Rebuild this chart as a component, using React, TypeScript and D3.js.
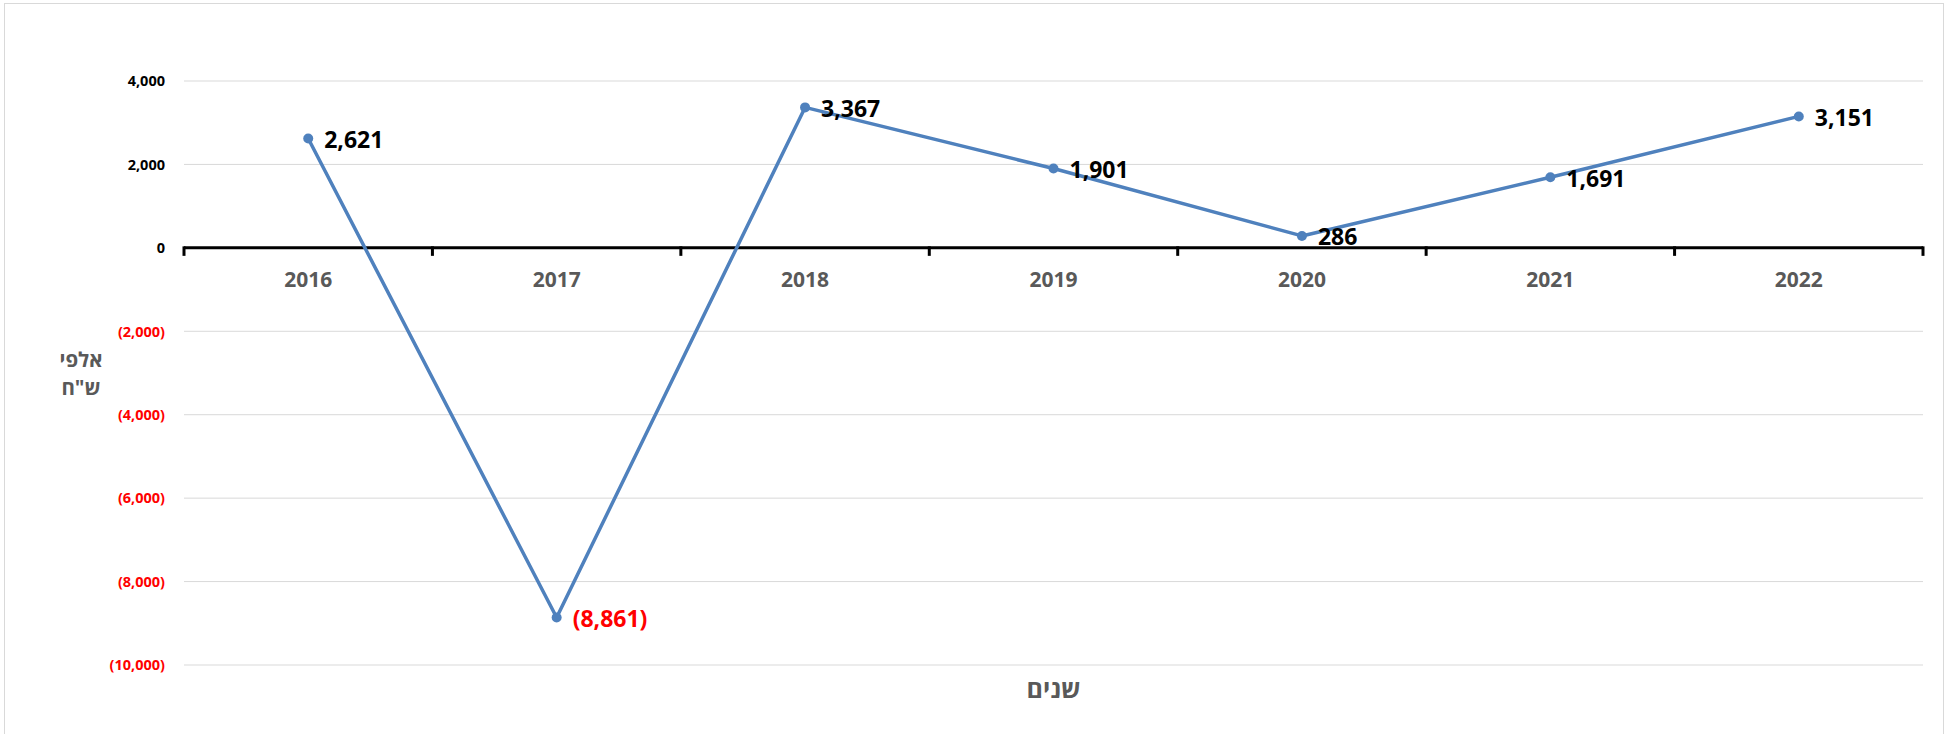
import React from 'react';
import * as d3 from 'd3';

const years = ['2016', '2017', '2018', '2019', '2020', '2021', '2022'];
const values = [2621, -8861, 3367, 1901, 286, 1691, 3151];
const yTicks = [4000, 2000, 0, -2000, -4000, -6000, -8000, -10000];
const yTitle = ['אלפי', 'ש"ח'];
const xTitle = 'שנים';

const W = 1952;
const H = 734;
const LEFT = 184;
const RIGHT = 1923;
const TOP = 81;
const BOTTOM = 665;

const NUM_FONT = "'Open Sans', Lato, 'DejaVu Sans', sans-serif";
const HEB_FONT = "'Open Sans', 'DejaVu Sans', sans-serif";

const fmt = (v: number) => {
  const s = d3.format(',')(Math.abs(v));
  return v < 0 ? `(${s})` : s;
};

const App: React.FC = () => {
  const x = d3.scaleBand<string>().domain(years).range([LEFT, RIGHT]).padding(0);
  const y = d3.scaleLinear().domain([-10000, 4000]).range([BOTTOM, TOP]);
  const cx = (yr: string) => (x(yr) ?? 0) + x.bandwidth() / 2;

  const points = years.map((yr, i) => ({ yr, v: values[i] }));
  const line = d3
    .line<{ yr: string; v: number }>()
    .x(d => cx(d.yr))
    .y(d => y(d.v));

  const y0 = y(0);
  // band edges for the tick marks under the zero line
  const edges = years.map(yr => x(yr) ?? 0).concat([RIGHT]);

  return (
    <div style={{ position: 'absolute', left: 0, top: 0 }}>
      <svg width={W} height={H} style={{ display: 'block', background: '#fff' }}>
        <rect x={4.5} y={3.5} width={1939} height={760} fill="#fff" stroke="#d9d9d9" strokeWidth={1} />

        {/* gridlines */}
        {yTicks.filter(t => t !== 0).map(t => (
          <line key={t} x1={LEFT} x2={RIGHT} y1={y(t)} y2={y(t)} stroke="#d9d9d9" strokeWidth={1} />
        ))}

        {/* y tick labels */}
        {yTicks.map(t => (
          <text
            key={'l' + t}
            x={165}
            y={y(t)}
            dy="0.36em"
            textAnchor="end"
            fontFamily={NUM_FONT}
            fontWeight="bold"
            fontSize={14.5}
            fill={t < 0 ? '#ff0000' : '#000'}
          >
            {fmt(t)}
          </text>
        ))}

        {/* zero axis */}
        <line x1={LEFT} x2={RIGHT} y1={y0} y2={y0} stroke="#000" strokeWidth={3} />
        {edges.map((e, i) => (
          <line key={'t' + i} x1={e} x2={e} y1={y0 - 1.5} y2={y0 + 8} stroke="#000" strokeWidth={3} />
        ))}

        {/* x labels */}
        {years.map(yr => (
          <text
            key={'x' + yr}
            x={cx(yr)}
            y={287}
            textAnchor="middle"
            fontFamily={NUM_FONT}
            fontWeight="bold"
            fontSize={21}
            fill="#595959"
          >
            {yr}
          </text>
        ))}

        {/* series */}
        <path d={line(points) ?? ''} fill="none" stroke="#4F81BD" strokeWidth={3.5} strokeLinejoin="round" />
        {points.map(p => (
          <circle key={'c' + p.yr} cx={cx(p.yr)} cy={y(p.v)} r={5} fill="#4F81BD" />
        ))}
        {points.map(p => (
          <text
            key={'d' + p.yr}
            x={cx(p.yr) + 16}
            y={y(p.v) + 1}
            dy="0.36em"
            fontFamily={NUM_FONT}
            fontWeight="bold"
            fontSize={23}
            fill={p.v < 0 ? '#ff0000' : '#000'}
          >
            {fmt(p.v)}
          </text>
        ))}

        {/* axis titles */}
        {yTitle.map((t, i) => (
          <text
            key={'yt' + i}
            x={81}
            y={367 + i * 28}
            textAnchor="middle"
            direction="rtl"
            fontFamily={HEB_FONT}
            fontWeight="bold"
            fontSize={20.5}
            fill="#595959"
          >
            {t}
          </text>
        ))}
        <text
          x={(LEFT + RIGHT) / 2}
          y={698}
          textAnchor="middle"
          direction="rtl"
          fontFamily={HEB_FONT}
          fontWeight="bold"
          fontSize={25}
          fill="#595959"
        >
          {xTitle}
        </text>
      </svg>
    </div>
  );
};

export default App;
